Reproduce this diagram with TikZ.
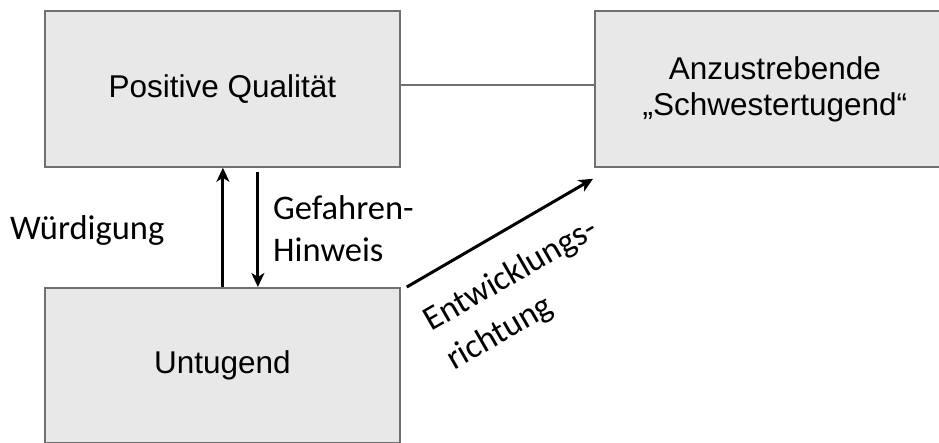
\documentclass[tikz,border=0pt]{standalone}
\usepackage{fontspec}
\setmainfont{Liberation Sans}
\newfontfamily\labelfont{Carlito}
\usetikzlibrary{arrows.meta,calc}

\definecolor{boxfill}{HTML}{E8E8E8}
\definecolor{boxline}{HTML}{707070}

\tikzset{
  qualbox/.style={draw=boxline, fill=boxfill, line width=1.8pt, inner sep=0pt,
    anchor=north west, align=center,
    font=\fontsize{31.5}{36}\selectfont},
  flowarrow/.style={line width=3pt, black,
    -{Stealth[length=14pt,width=13pt,inset=4pt]}},
  sidelabel/.style={inner sep=0pt, align=left,
    font=\labelfont\fontsize{34.5}{42}\selectfont}
}

\begin{document}
\begin{tikzpicture}[x=1pt,y=-1pt]
  \useasboundingbox (0,0) rectangle (939,443);
  \begin{scope}
  \clip (0,0) rectangle (939,443);

  % the three boxes
  \node[qualbox, minimum width=355pt, minimum height=156pt] (pos) at (44,10) {Positive Qualität};
  \node[qualbox, minimum width=360pt, minimum height=156pt] (ziel) at (594,10) {Anzustrebende\\„Schwestertugend“};
  \node[qualbox, minimum width=355pt, minimum height=155pt] (untugend) at (44,287) {Untugend};

  % plain link between the two upper boxes
  \draw[boxline, line width=1.3pt] ([yshift=4pt]pos.east) -- ([yshift=4pt]ziel.west);

  % vertical arrows between the left boxes
  \draw[flowarrow] ([xshift=0.5pt]untugend.north) -- ([xshift=0.5pt]pos.south);
  \draw[flowarrow] ([xshift=35.5pt,yshift=-4pt]pos.south) -- ([xshift=35.5pt]untugend.north);

  % diagonal arrow towards the target box
  \draw[flowarrow] ([xshift=6pt]untugend.north east) -- ([shift={(-1pt,-11pt)}]ziel.south west);
  \end{scope}

  % labels (multi-line nodes are anchored on the baseline of their last line)
  \node[sidelabel, anchor=base west] (wuerd) at (10,240) {Würdigung};
  \node[sidelabel, anchor=base west] (gefahr) at (273,262) {Gefahren-\\Hinweis};
  \node[sidelabel, anchor=base west, rotate=30,
        font=\labelfont\fontsize{34.5}{45}\selectfont] (entw) at (454,371) {Entwicklungs-\\richtung};
\end{tikzpicture}
\end{document}
